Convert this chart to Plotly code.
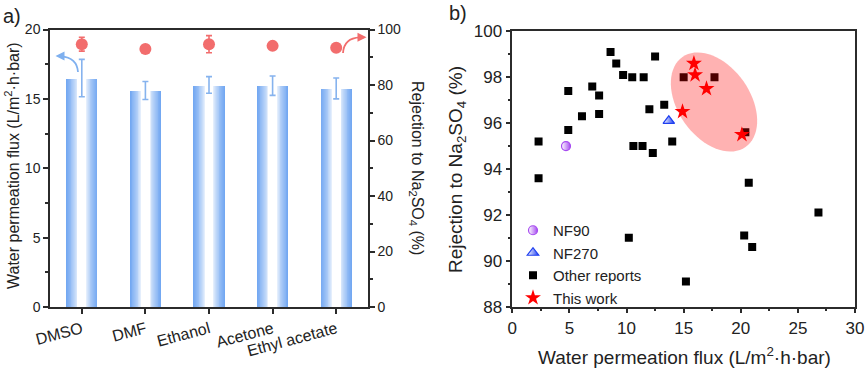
import numpy as np
import plotly.graph_objects as go

# ---------------- data: panel a ----------------
solvents = ["DMSO", "DMF", "Ethanol", "Acetone", "Ethyl acetate"]
flux = [16.5, 15.6, 16.0, 15.95, 15.75]
flux_err = [1.35, 0.65, 0.6, 0.7, 0.75]
rejection = [94.7, 93.0, 94.7, 94.1, 93.4]
rejection_err = [2.5, 0, 3.1, 0, 0]

# ---------------- data: panel b ----------------
nf90_x = [4.7]
nf90_y = [95.0]
nf270_x = [13.7]
nf270_y = [96.1]
other_x = [2.3, 2.3, 4.9, 4.9, 6.1, 7.0, 7.6, 7.6, 8.6, 9.1, 9.7, 10.5, 11.5, 10.6, 11.4,
           12.0, 12.3, 12.5, 13.3, 14.0, 15.0, 17.7, 20.4, 20.7, 26.8, 10.2, 20.3, 21.0, 15.2]
other_y = [95.2, 93.6, 97.4, 95.7, 96.3, 97.6, 97.2, 96.4, 99.1, 98.6, 98.1, 98.0, 98.0, 95.0, 95.0,
           96.6, 94.7, 98.9, 96.8, 95.2, 98.0, 98.0, 95.6, 93.4, 92.1, 91.0, 91.1, 90.6, 89.1]
this_x = [15.9, 16.0, 17.0, 14.9, 20.1]
this_y = [98.6, 98.1, 97.5, 96.5, 95.5]

W, H = 865, 369
FONT = "Liberation Sans, Arial, sans-serif"
AX = "#2b2b2b"


def px(x):
    return x / W


def py(y):
    return 1 - y / H


fig = go.Figure()

# gradient bars (nested overlay bars: blue edges -> white centre)
blue = np.array([115, 168, 242])
white = np.array([255, 255, 255])
N = 14
bw = 0.49
for k in range(N):
    r = 1 - k / (N - 1) * 0.72
    f = min(1.0, max(0.0, (r - 0.28) / 0.72)) ** 0.65
    c = white + (blue - white) * f
    fig.add_trace(go.Bar(
        x=solvents, y=flux, width=[bw * r] * len(solvents),
        marker=dict(color="rgb(%d,%d,%d)" % tuple(c), line=dict(width=0)),
        showlegend=False, hoverinfo="skip", xaxis="x", yaxis="y"))

# flux error bars
fig.add_trace(go.Scatter(
    x=solvents, y=flux, mode="markers",
    marker=dict(color="rgba(0,0,0,0)", size=1),
    error_y=dict(type="data", array=flux_err, color="#86b3ee", thickness=1.6, width=3),
    showlegend=False, xaxis="x", yaxis="y"))

# rejection points
fig.add_trace(go.Scatter(
    x=solvents, y=rejection, mode="markers",
    marker=dict(color="#f26d6d", size=12),
    error_y=dict(type="data", array=rejection_err, color="#f26d6d", thickness=1.6, width=3),
    showlegend=False, xaxis="x", yaxis="y2"))

# ---------------- panel b traces ----------------
fig.add_trace(go.Scatter(
    x=nf90_x, y=nf90_y, mode="markers", name="NF90",
    marker=dict(symbol="circle", size=9, color="white",
                gradient=dict(type="horizontal", color="#a64af0"),
                line=dict(color="#a64af0", width=1.2)),
    xaxis="x2", yaxis="y3"))
fig.add_trace(go.Scatter(
    x=nf270_x, y=nf270_y, mode="markers", name="NF270",
    marker=dict(symbol="triangle-up", size=10, color="white",
                gradient=dict(type="horizontal", color="#1f3ff0"),
                line=dict(color="#1f3ff0", width=1.2)),
    xaxis="x2", yaxis="y3"))
fig.add_trace(go.Scatter(
    x=other_x, y=other_y, mode="markers", name="Other reports",
    marker=dict(symbol="square", size=8, color="black"),
    xaxis="x2", yaxis="y3"))
fig.add_trace(go.Scatter(
    x=this_x, y=this_y, mode="markers", name="This work",
    marker=dict(symbol="star", size=12, color="#ff0000", line=dict(width=0)),
    xaxis="x2", yaxis="y3"))

# ellipse highlight (in pixel space of panel b, converted to data)
x0p, x1p, y0p, y1p = 512.3, 855.0, 31.3, 306.7
sx = (x1p - x0p) / 30.0
sy = (y1p - y0p) / 12.0
cxp, cyp, a, b, th = 714.0, 102.0, 55.0, 36.0, np.deg2rad(55)
t = np.linspace(0, 2 * np.pi, 73)
ex = cxp + a * np.cos(t) * np.cos(th) - b * np.sin(t) * np.sin(th)
ey = cyp + a * np.cos(t) * np.sin(th) + b * np.sin(t) * np.cos(th)
dx = (ex - x0p) / sx
dy = 100 - (ey - y0p) / sy
path = "M " + " L ".join("%.3f,%.3f" % (u, v) for u, v in zip(dx, dy)) + " Z"
fig.add_shape(type="path", path=path, xref="x2", yref="y3",
              fillcolor="rgba(255,0,0,0.3)", line=dict(width=0), layer="above")

# curved arrows in panel a
def ppath(pts):
    (x0, y0), (xc, yc), (x1, y1) = pts
    return "M %f,%f Q %f,%f %f,%f" % (px(x0), py(y0), px(xc), py(yc), px(x1), py(y1))

fig.add_shape(type="path", xref="paper", yref="paper",
              path=ppath([(78, 72), (77, 57.5), (61, 56.3)]),
              line=dict(color="#7fb0ef", width=1.8))
fig.add_annotation(x=px(55.5), y=py(56), xref="paper", yref="paper", text="",
                   showarrow=True, ax=7, ay=0, arrowhead=2, arrowsize=1, arrowwidth=1.8,
                   arrowcolor="#7fb0ef")
fig.add_shape(type="path", xref="paper", yref="paper",
              path=ppath([(343, 53), (344, 38), (360, 37.4)]),
              line=dict(color="#f26d6d", width=1.8))
fig.add_annotation(x=px(366.5), y=py(37.3), xref="paper", yref="paper", text="",
                   showarrow=True, ax=-7, ay=0, arrowhead=2, arrowsize=1, arrowwidth=1.8,
                   arrowcolor="#f26d6d")


def label(x, y, text, size, angle=0, xanchor="center"):
    fig.add_annotation(x=px(x), y=py(y), xref="paper", yref="paper", showarrow=False,
                       text=text, textangle=angle, xanchor=xanchor, yanchor="middle",
                       font=dict(size=size, color="#222", family=FONT))


# titles / labels as annotations
label(12, 166, "Water permeation flux (L/m<sup>2</sup>·h·bar)", 16, -90)
label(417, 168, "Rejection to Na<sub>2</sub>SO<sub>4</sub> (%)", 16, 90)
label(457, 170, "Rejection to Na<sub>2</sub>SO<sub>4</sub> (%)", 19, -90)
label(684, 356, "Water permeation flux (L/m<sup>2</sup>·h·bar)", 19)
label(1, 16, "a)", 20, xanchor="left")
label(447, 13, "b)", 20, xanchor="left")

axis_common = dict(showline=True, linecolor=AX, linewidth=1.5, showgrid=False, zeroline=False,
                   ticks="outside", tickcolor=AX, tickwidth=1.5, ticklen=5, automargin=False)

fig.update_layout(
    width=W, height=H, margin=dict(l=0, r=0, t=0, b=0),
    paper_bgcolor="white", plot_bgcolor="white",
    font=dict(family=FONT, color="#222"),
    barmode="overlay", bargap=0,
    xaxis=dict(domain=[px(50), px(368)], range=[-0.5, 4.5], mirror=True,
               tickangle=-15, tickfont=dict(size=16), anchor="y", **axis_common),
    yaxis=dict(domain=[py(307), py(29.5)], range=[0, 20], dtick=5, tickfont=dict(size=14),
               minor=dict(dtick=2.5, ticks="outside", ticklen=3, tickcolor=AX, tickwidth=1.5),
               anchor="x", **axis_common),
    yaxis2=dict(overlaying="y", side="right", range=[0, 100], dtick=20, anchor="x",
                tickfont=dict(size=14),
                minor=dict(dtick=10, ticks="outside", ticklen=3, tickcolor=AX, tickwidth=1.5),
                **axis_common),
    xaxis2=dict(domain=[px(512.3), px(855)], range=[0, 30], dtick=5, anchor="y3", mirror=True,
                tickfont=dict(size=17),
                minor=dict(dtick=2.5, ticks="outside", ticklen=3, tickcolor=AX, tickwidth=1.5),
                **axis_common),
    yaxis3=dict(domain=[py(306.7), py(31.3)], range=[88, 100], dtick=2, anchor="x2", mirror=True,
                tickfont=dict(size=17),
                minor=dict(dtick=1, ticks="outside", ticklen=3, tickcolor=AX, tickwidth=1.5),
                **axis_common),
    legend=dict(x=px(513), y=py(214), xanchor="left", yanchor="top",
                bgcolor="rgba(0,0,0,0)", font=dict(size=15, family=FONT, color="#222"),
                tracegroupgap=0, itemwidth=30),
)

# remove the page's default 8px body margin so the figure sits at the window corner
fig.write_html("out.html", config={"displayModeBar": False},
               post_script="document.body.style.margin='0';document.body.style.overflow='hidden';")
